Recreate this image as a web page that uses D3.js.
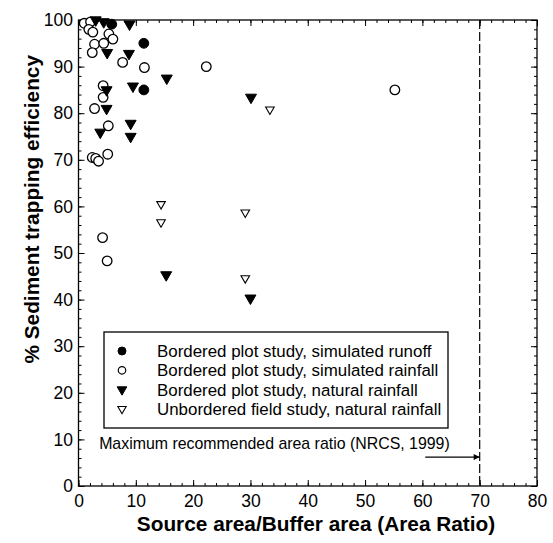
<!DOCTYPE html>
<html><head><meta charset="utf-8">
<script src="https://cdn.jsdelivr.net/npm/d3@7"></script>
<style>body{margin:0;background:#fff}svg{display:block}text{font-family:"Liberation Sans",Arial,sans-serif}</style>
</head><body><svg id="c" width="553" height="543"></svg>
<script>
const runoffX = [5.8, 11.4, 11.4];
const runoffY = [99.1, 95.0, 85.0];
const rainX = [1.0, 2.1, 1.8, 2.5, 2.8, 2.4, 4.4, 5.3, 6.0, 7.7, 11.5, 22.3, 55.2, 4.3, 4.3, 2.8, 5.2, 2.4, 3.0, 3.5, 5.1, 4.2, 5.0];
const rainY = [99.3, 99.6, 98, 97.4, 94.8, 93, 95, 97, 95.9, 90.9, 89.8, 90, 85, 85.9, 83.4, 81, 77.3, 70.5, 70.3, 69.7, 71.2, 53.3, 48.3];
const natX = [3.0, 4.4, 8.9, 5.0, 8.8, 15.4, 9.5, 4.9, 4.9, 9.1, 3.8, 9.1, 30.1, 15.3, 30.0];
const natY = [100, 99.6, 99.1, 93, 92.8, 87.5, 85.8, 85, 81, 77.8, 75.9, 75, 83.4, 45.3, 40.3];
const unbX = [33.4, 14.4, 14.4, 29.1, 29.1];
const unbY = [80.8, 60.5, 56.6, 58.7, 44.6];
const legendLabels = ["Bordered plot study, simulated runoff","Bordered plot study, simulated rainfall","Bordered plot study, natural rainfall","Unbordered field study, natural rainfall"];
const xTicks = [0,10,20,30,40,50,60,70,80];
const yTicks = [0,10,20,30,40,50,60,70,80,90,100];
const limitX = 70;
const arrowX = [60.5, 70];
const arrowY = 6.2;
const noteText = "Maximum recommended area ratio (NRCS, 1999)";

const L=78.5,R=537,T=20,B=486;
const svg=d3.select("#c");
const x=d3.scaleLinear().domain([0,80]).range([L,R]);
const y=d3.scaleLinear().domain([0,100]).range([B,T]);

function ax(gen,tr,maj,minVals,lab){
  const g=svg.append("g").attr("transform",tr);
  g.call(gen.tickValues(minVals).tickSize(3).tickFormat(""));
  g.select(".domain").remove();
  const g2=svg.append("g").attr("transform",tr);
  g2.call(gen.tickValues(maj).tickSize(6).tickFormat(lab?d3.format("d"):""));
  g2.select(".domain").remove();
  return [g,g2];
}
const xMin=d3.range(0,81,2), yMin=d3.range(0,101,2);
const [bx1,bx2]=ax(d3.axisTop(x),`translate(0,${B})`,xTicks,xMin,true);
bx2.selectAll("text").attr("y",9).attr("dy","0.71em");
ax(d3.axisBottom(x),`translate(0,${T})`,xTicks,xMin,false);
const [ly1,ly2]=ax(d3.axisRight(y),`translate(${L},0)`,yTicks,yMin,true);
ly2.selectAll("text").attr("x",-5.5).attr("text-anchor","end");
ax(d3.axisLeft(y),`translate(${R},0)`,yTicks,yMin,false);
svg.selectAll(".tick line").attr("stroke","#000").attr("stroke-width",1);
svg.selectAll(".tick text").attr("font-size",17.5).attr("fill","#000").attr("font-family","Liberation Sans, Arial, sans-serif");
svg.append("rect").attr("x",L).attr("y",T).attr("width",R-L).attr("height",B-T).attr("fill","none").attr("stroke","#000").attr("stroke-width",1.3);

svg.append("line").attr("x1",x(limitX)).attr("x2",x(limitX)).attr("y1",y(100)).attr("y2",y(0))
  .attr("stroke","#000").attr("stroke-width",1.2).attr("stroke-dasharray","9,3");

svg.append("text").attr("x",316).attr("y",531).attr("text-anchor","middle").attr("font-size",20.8).attr("font-weight","bold").text("Source area/Buffer area (Area Ratio)");
svg.append("text").attr("transform",`translate(39,55) rotate(-90)`).attr("text-anchor","end").attr("font-size",20.8).attr("font-weight","bold").text("% Sediment trapping efficiency");

svg.append("text").attr("x",x(3.6)).attr("y",y(8.0)).attr("font-size",15.9).text(noteText);
svg.append("defs").append("marker").attr("id","ah").attr("viewBox","0 0 10 10").attr("refX",10).attr("refY",5)
  .attr("markerWidth",8).attr("markerHeight",6).attr("markerUnits","userSpaceOnUse").attr("orient","auto")
  .append("path").attr("d","M0,0L10,5L0,10Z").attr("fill","#000");
svg.append("line").attr("x1",x(arrowX[0])).attr("x2",x(arrowX[1])).attr("y1",y(arrowY)).attr("y2",y(arrowY))
  .attr("stroke","#000").attr("stroke-width",1.3).attr("marker-end","url(#ah)");

const circ=d3.symbol().type(d3.symbolCircle);
const tri=d3.symbol().type(d3.symbolTriangle);
function pts(xs,ys,gen,size,fill,sw,rot){
  svg.append("g").selectAll("path").data(xs.map((v,i)=>[v,ys[i]])).join("path")
    .attr("d",gen.size(size)()).attr("transform",d=>`translate(${x(d[0])},${y(d[1])})${rot?" rotate(180)":""}`)
    .attr("fill",fill?"#000":"#fff").attr("stroke","#000").attr("stroke-width",sw);
}
pts(rainX,rainY,circ,72,false,1.3,false);
pts(runoffX,runoffY,circ,76,true,1,false);
pts(natX,natY,tri,52,true,1,true);
pts(unbX,unbY,tri,32,false,1.1,true);

const lg=svg.append("g");
lg.append("rect").attr("x",104).attr("y",332).attr("width",344).attr("height",96).attr("fill","#fff").attr("stroke","#000").attr("stroke-width",1.3);
const symGens=[[circ,50,true,1],[circ,44,false,1.2],[tri,40,true,1],[tri,30,false,1.1]];
legendLabels.forEach((t,i)=>{
  const yy=351+i*19.3;
  const s=symGens[i];
  lg.append("path").attr("d",s[0].size(s[1])()).attr("transform",`translate(122,${yy})${i>=2?" rotate(180)":""}`)
    .attr("fill",s[2]?"#000":"#fff").attr("stroke","#000").attr("stroke-width",s[3]);
  lg.append("text").attr("x",157).attr("y",yy+6).attr("font-size",16.9).text(t);
});
</script></body></html>
